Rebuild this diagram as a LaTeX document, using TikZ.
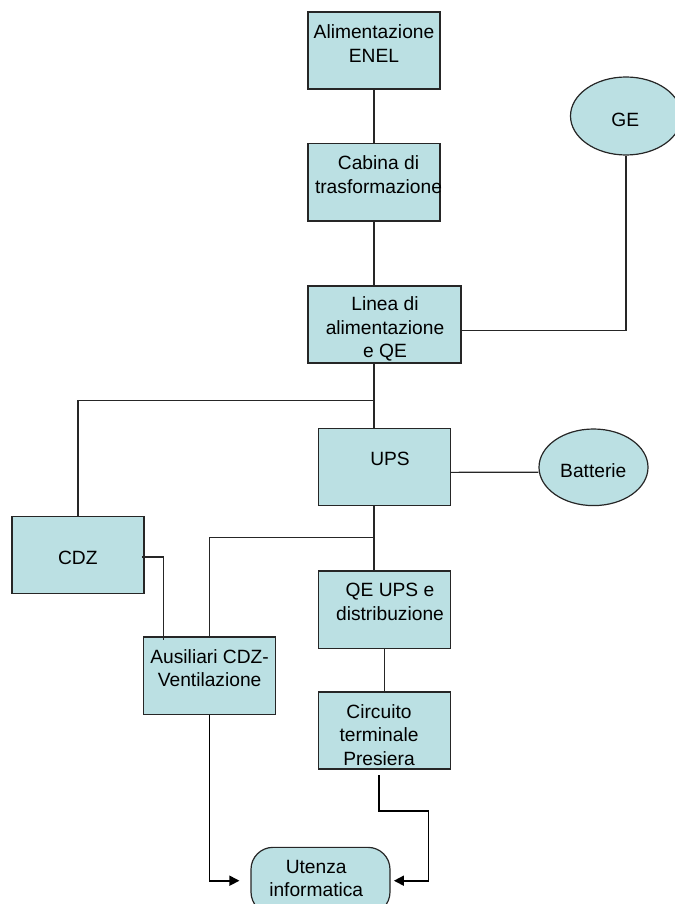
\documentclass[tikz,border=0pt]{standalone}
\usepackage{fontspec}
\setmainfont{Liberation Sans}
\usetikzlibrary{arrows.meta,shapes.geometric}
\definecolor{boxfill}{RGB}{187,224,227}
\begin{document}
\begin{tikzpicture}[x=1pt,y=-1pt,
  box/.style={draw=black!85, fill=boxfill, line width=1.2pt, rectangle, minimum width=132pt, minimum height=77pt, inner sep=0pt},
  oval/.style={draw=black!85, fill=boxfill, line width=1.2pt, ellipse, inner sep=0pt},
  txt/.style={align=center, inner sep=0pt, font=\fontsize{19.2}{23.6}\selectfont},
  conn/.style={draw=black!85, line width=1.2pt},
  arr/.style={draw=black, line width=1.6pt, -{Triangle[length=10pt,width=10pt]}}
]
\useasboundingbox (0,0) rectangle (674,904);

% shapes
\node[box] (alim) at (374,50.5) {};
\node[box, minimum height=77.3pt] (cab) at (374,182.35) {};
\node[box, minimum width=153pt] (lin) at (384.5,324.5) {};
\node[box] (ups) at (384.6,467.35) {};
\node[box] (cdz) at (78,555) {};
\node[box, minimum height=77.3pt] (qe) at (384.6,609.65) {};
\node[box, minimum height=77.3pt] (aus) at (209.6,675.65) {};
\node[box] (circ) at (384.6,730.5) {};
\node[oval, minimum width=109pt, minimum height=76.6pt] (batt) at (593.5,467.3) {};
\node[oval, minimum width=111pt, minimum height=78pt] (ge) at (626,116) {};
\node[draw=black!85, fill=boxfill, line width=1.2pt, rectangle, rounded corners=22pt, minimum width=139pt, minimum height=66.7pt, inner sep=0pt] (ute) at (320.5,880.7) {};

% texts
\node[txt] (talim) at (374,43.5) {Alimentazione\\ENEL};
\node[txt] (tcab) at (378.5,174.7) {Cabina di\\trasformazione};
\node[txt] (tlin) at (385,329) {Linea di\\alimentazione\\e QE};
\node[txt] (tups) at (390,459.3) {UPS};
\node[txt] (tbatt) at (593.3,470.3) {Batterie};
\node[txt] (tge) at (625.3,120.3) {GE};
\node[txt] (tcdz) at (77.8,557.8) {CDZ};
\node[txt] (tqe) at (390,602) {QE UPS e\\distribuzione};
\node[txt] (taus) at (209.6,668.2) {Ausiliari CDZ-\\Ventilazione};
\node[txt] (tcirc) at (379,734.8) {Circuito\\terminale\\Presiera};
\node[txt] (tute) at (316.2,878.5) {Utenza\\informatica};

% junctions and free ends
\coordinate (j1) at (374,400.3);
\coordinate (j2) at (374,537.7);
\coordinate (c1) at (141.9,557);
\coordinate (c2) at (163.4,640);
\coordinate (d1) at (379.2,775);
\coordinate (d2) at (428.3,811);

% connectors
\draw[conn] (alim.south) -- (cab.north);
\draw[conn] (cab.south) -- (cab.south |- lin.north);
\draw[conn] ([yshift=-5.8pt]lin.east) -| (ge.south);
\draw[conn] (lin.south -| alim.south) -- (ups.north -| alim.south);
\draw[conn] (j1) -| (cdz.north);
\draw[conn] ([yshift=-5pt]ups.east) -- ([yshift=-5pt]batt.west);
\draw[conn] (ups.south -| alim.south) -- (qe.north -| alim.south);
\draw[conn] (j2) -| (aus.north);
\draw[conn] (c1) -| (c2);
\draw[conn] (qe.south) -- (circ.north);
\draw[arr] (aus.south) |- ([xshift=-11pt]ute.west);
\draw[arr] (d1) |- (d2) |- ([xshift=3.3pt]ute.east);
\end{tikzpicture}
\end{document}
